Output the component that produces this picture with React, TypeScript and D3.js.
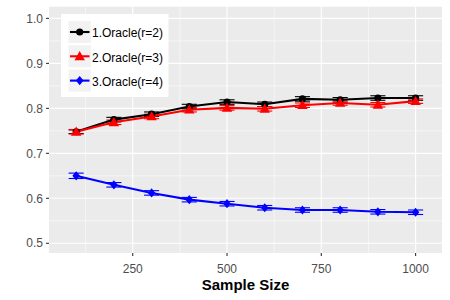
import React from "react";
import * as d3 from "d3";

const sampleSizes = [100, 200, 300, 400, 500, 600, 700, 800, 900, 1000];
const seriesNames = ["1.Oracle(r=2)", "2.Oracle(r=3)", "3.Oracle(r=4)"];
const seriesColors = ["#000000", "#FF0000", "#0000FF"];
const seriesShapes = ["circle", "triangle", "diamond"];
const r2Values = [0.748, 0.775, 0.787, 0.804, 0.814, 0.809, 0.821, 0.819, 0.823, 0.823];
const r3Values = [0.748, 0.769, 0.782, 0.797, 0.801, 0.799, 0.807, 0.812, 0.808, 0.816];
const r4Values = [0.650, 0.630, 0.612, 0.597, 0.588, 0.579, 0.574, 0.574, 0.570, 0.569];
const r2Err = [0.004, 0.005, 0.005, 0.005, 0.005, 0.005, 0.005, 0.005, 0.005, 0.005];
const r3Err = [0.005, 0.005, 0.005, 0.005, 0.005, 0.005, 0.005, 0.005, 0.005, 0.005];
const r4Err = [0.006, 0.005, 0.005, 0.005, 0.005, 0.005, 0.005, 0.005, 0.005, 0.005];
const xTicks = [250, 500, 750, 1000];
const xMinor = [125, 375, 625, 875];
const yTicks = [0.5, 0.6, 0.7, 0.8, 0.9, 1.0];
const yMinor = [0.55, 0.65, 0.75, 0.85, 0.95];
const xTitle = "Sample Size";

const W = 450;
const H = 300;
const panel = { left: 49, right: 442, top: 6.7, bottom: 253 };

function Marker({ shape, x, y, color }: { shape: string; x: number; y: number; color: string }) {
  if (shape === "circle") return <circle cx={x} cy={y} r={3.6} fill={color} />;
  if (shape === "triangle") {
    const s = 5.2;
    return (
      <path
        d={`M${x},${y - s * 1.0} L${x + s},${y + s * 0.75} L${x - s},${y + s * 0.75} Z`}
        fill={color}
      />
    );
  }
  const w = 3.8;
  const h = 4.6;
  return <path d={`M${x},${y - h} L${x + w},${y} L${x},${y + h} L${x - w},${y} Z`} fill={color} />;
}

export default function App() {
  const x = d3.scaleLinear().domain([28, 1070]).range([panel.left, panel.right]);
  const y = d3.scaleLinear().domain([0.4784, 1.026]).range([panel.bottom, panel.top]);
  const series = [
    { vals: r2Values, err: r2Err },
    { vals: r3Values, err: r3Err },
    { vals: r4Values, err: r4Err },
  ];
  const line = d3
    .line<number>()
    .x((_, i) => x(sampleSizes[i]))
    .y((d) => y(d));
  const capHalf = 20;
  const font = "'Liberation Sans', Arial, sans-serif";

  return (
    <div style={{ position: "absolute", left: 0, top: 0 }}>
      <svg width={W} height={H} style={{ display: "block" }}>
        <rect x={0} y={0} width={W} height={H} fill="#FFFFFF" />
        <rect
          x={panel.left}
          y={panel.top}
          width={panel.right - panel.left}
          height={panel.bottom - panel.top}
          fill="#EBEBEB"
        />
        {xMinor.map((t) => (
          <line key={"xm" + t} x1={x(t)} x2={x(t)} y1={panel.top} y2={panel.bottom} stroke="#FFFFFF" strokeWidth={0.55} />
        ))}
        {yMinor.map((t) => (
          <line key={"ym" + t} x1={panel.left} x2={panel.right} y1={y(t)} y2={y(t)} stroke="#FFFFFF" strokeWidth={0.55} />
        ))}
        {xTicks.map((t) => (
          <line key={"xg" + t} x1={x(t)} x2={x(t)} y1={panel.top} y2={panel.bottom} stroke="#FFFFFF" strokeWidth={1.1} />
        ))}
        {yTicks.map((t) => (
          <line key={"yg" + t} x1={panel.left} x2={panel.right} y1={y(t)} y2={y(t)} stroke="#FFFFFF" strokeWidth={1.1} />
        ))}

        {/* error bars */}
        {series.map((s, si) => {
          const c = seriesColors[si];
          return (
            <g key={"e" + si}>
              {s.vals.map((v, i) => (
                <g key={i}>
                  <line x1={x(sampleSizes[i])} x2={x(sampleSizes[i])} y1={y(v - s.err[i])} y2={y(v + s.err[i])} stroke={c} strokeWidth={1.1} />
                  <line x1={x(sampleSizes[i] - capHalf)} x2={x(sampleSizes[i] + capHalf)} y1={y(v - s.err[i])} y2={y(v - s.err[i])} stroke={c} strokeWidth={1.1} />
                  <line x1={x(sampleSizes[i] - capHalf)} x2={x(sampleSizes[i] + capHalf)} y1={y(v + s.err[i])} y2={y(v + s.err[i])} stroke={c} strokeWidth={1.1} />
                </g>
              ))}
            </g>
          );
        })}
        {/* lines */}
        {series.map((s, si) => (
          <path key={"l" + si} d={line(s.vals) || ""} fill="none" stroke={seriesColors[si]} strokeWidth={2.1} />
        ))}
        {/* points */}
        {series.map((s, si) => (
          <g key={"p" + si}>
            {s.vals.map((v, i) => (
              <Marker key={"m" + i} shape={seriesShapes[si]} x={x(sampleSizes[i])} y={y(v)} color={seriesColors[si]} />
            ))}
          </g>
        ))}

        {/* axes */}
        {yTicks.map((t) => (
          <g key={"yt" + t}>
            <line x1={panel.left - 3} x2={panel.left} y1={y(t)} y2={y(t)} stroke="#333333" strokeWidth={1.1} />
            <text x={panel.left - 6} y={y(t)} dy="0.35em" textAnchor="end" fontFamily={font} fontSize={12} fill="#4D4D4D">
              {d3.format(".1f")(t)}
            </text>
          </g>
        ))}
        {xTicks.map((t) => (
          <g key={"xt" + t}>
            <line x1={x(t)} x2={x(t)} y1={panel.bottom} y2={panel.bottom + 3} stroke="#333333" strokeWidth={1.1} />
            <text x={x(t)} y={panel.bottom + 15.5} dy="0.35em" textAnchor="middle" fontFamily={font} fontSize={12} fill="#4D4D4D">
              {t}
            </text>
          </g>
        ))}
        <text
          x={(panel.left + panel.right) / 2}
          y={285}
          dy="0.35em"
          textAnchor="middle"
          fontFamily={font}
          fontSize={15}
          fontWeight="bold"
          fill="#000000"
        >
          {xTitle}
        </text>

        {/* legend */}
        <rect x={61} y={14} width={107.5} height={83} fill="#FFFFFF" />
        {seriesNames.map((n, i) => {
          const cy = 32 + i * 24.3;
          return (
            <g key={"lg" + i}>
              <rect x={68.5} y={cy - 11} width={22.5} height={22} fill="#F2F2F2" />
              <line x1={70} x2={89.5} y1={cy} y2={cy} stroke={seriesColors[i]} strokeWidth={2.1} />
              <Marker shape={seriesShapes[i]} x={79.7} y={cy} color={seriesColors[i]} />
              <text x={92} y={cy + 1} dy="0.35em" fontFamily={font} fontSize={12} fill="#000000">
                {n}
              </text>
            </g>
          );
        })}
      </svg>
    </div>
  );
}
